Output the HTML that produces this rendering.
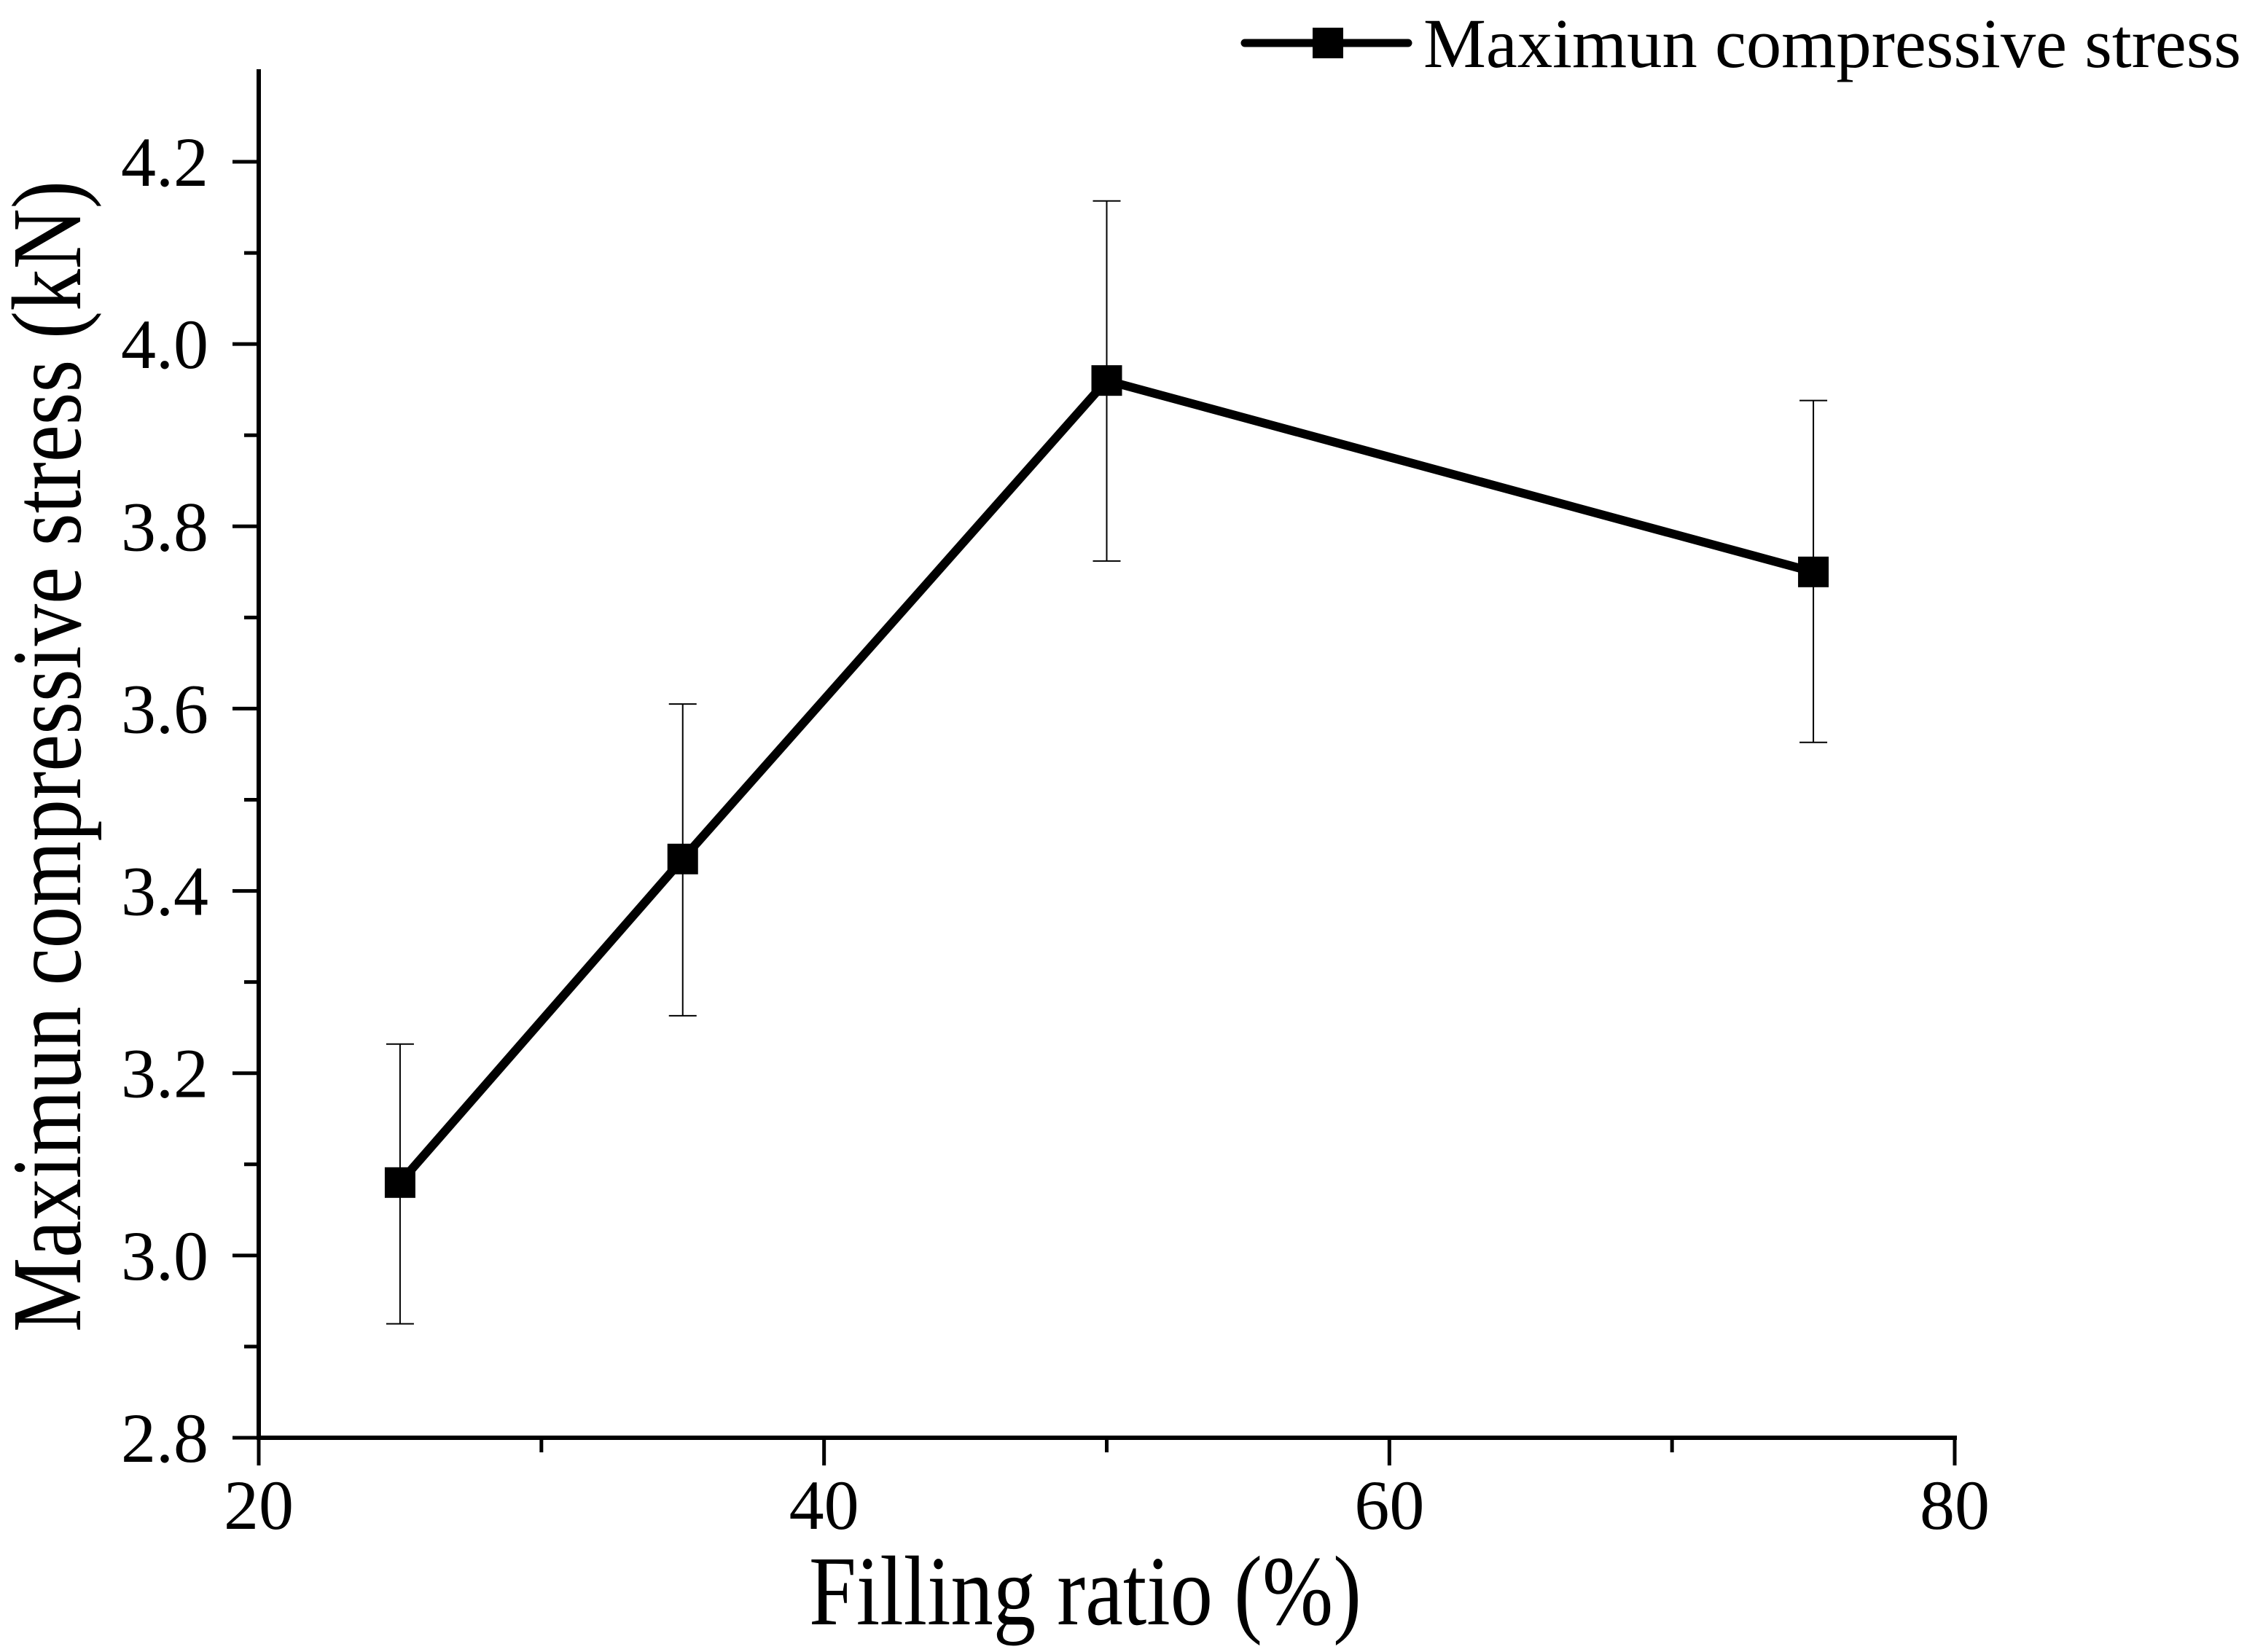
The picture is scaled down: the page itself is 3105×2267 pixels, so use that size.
<!DOCTYPE html>
<html><head><meta charset="utf-8"><style>
html,body{margin:0;padding:0;background:#fff;}
svg{display:block;font-family:"Liberation Serif","Times New Roman",serif;}
</style></head><body>
<svg id="chart" width="3105" height="2267" viewBox="0 0 3105 2267" xmlns="http://www.w3.org/2000/svg">
<g id="axes"></g>
<g id="series"></g>
<g>
  <line x1="1708" y1="59" x2="1932" y2="59" stroke="#000" stroke-width="11" stroke-linecap="round"/>
  <rect x="1801" y="38" width="42" height="42" fill="#000"/>
  <text x="1953" y="92" font-size="96" textLength="1122" lengthAdjust="spacingAndGlyphs">Maximun compressive stress</text>
</g>
<text x="1110" y="2229" font-size="136" textLength="758" lengthAdjust="spacingAndGlyphs">Filling ratio (%)</text>
<text transform="translate(110,1038) rotate(-90)" text-anchor="middle" font-size="136" textLength="1580" lengthAdjust="spacingAndGlyphs">Maximun compressive stress (kN)</text>
</svg>
<script>
const xCategories = [25, 35, 50, 75];
const yValues = [3.08, 3.435, 3.96, 3.75];
const errLow = [2.925, 3.263, 3.762, 3.563];
const errHigh = [3.232, 3.605, 4.157, 3.938];
const xTickLabels = [20, 40, 60, 80];
const xMinorTicks = [30, 50, 70];
const yTickLabels = ["2.8", "3.0", "3.2", "3.4", "3.6", "3.8", "4.0", "4.2"];
const yMinorTicks = [2.9, 3.1, 3.3, 3.5, 3.7, 3.9, 4.1];

const NS = "http://www.w3.org/2000/svg";
const X0 = 355, X1 = 2682, Y0 = 1973, YTOP = 95;
function xs(v){ return X0 + (v - 20) / 60 * (X1 - X0); }
function ys(v){ return Y0 - (v - 2.8) / 1.4 * (Y0 - 222); }
function mk(tag, attrs, parent){
  const e = document.createElementNS(NS, tag);
  for (const k in attrs) e.setAttribute(k, attrs[k]);
  parent.appendChild(e); return e;
}
const axes = document.getElementById('axes');
const series = document.getElementById('series');

let el = mk('line', {x1:X0, y1:YTOP, x2:X0, y2:Y0+3, stroke:'#000','stroke-width':6}, axes);


el = mk('line', {x1:X0-3, y1:Y0, x2:X1+3, y2:Y0, stroke:'#000','stroke-width':6}, axes);



xTickLabels.forEach(v => {
  const x = xs(v);
  let t = mk('line', {x1:x, y1:Y0, x2:x, y2:Y0+38, stroke:'#000','stroke-width':5}, axes);
  
  
  let l = mk('text', {x:x, y:2098, 'font-size':96, 'text-anchor':'middle'}, axes);
  l.textContent = v;
  
  
});
xMinorTicks.forEach(v => {
  const x = xs(v);
  let t = mk('line', {x1:x, y1:Y0, x2:x, y2:Y0+20, stroke:'#000','stroke-width':5}, axes);
  
  
});
yTickLabels.forEach(s => {
  const y = ys(parseFloat(s));
  let t = mk('line', {x1:X0-36, y1:y, x2:X0, y2:y, stroke:'#000','stroke-width':5}, axes);
  
  
  let l = mk('text', {x:286, y:y+33, 'font-size':96, 'text-anchor':'end'}, axes);
  l.textContent = s;
  
  
});
yMinorTicks.forEach(v => {
  const y = ys(v);
  let t = mk('line', {x1:X0-20, y1:y, x2:X0, y2:y, stroke:'#000','stroke-width':5}, axes);
  
  
});

xCategories.forEach((c, i) => {
  const x = xs(c);
  let e = mk('line', {x1:x, y1:ys(errLow[i]), x2:x, y2:ys(errHigh[i]), stroke:'#000','stroke-width':2}, series);
  
  
  [errLow[i], errHigh[i]].forEach(v => {
    let cap = mk('line', {x1:x-19, y1:ys(v), x2:x+19, y2:ys(v), stroke:'#000','stroke-width':2}, series);
    
    
  });
});
const pts = xCategories.map((c, i) => xs(c) + ',' + ys(yValues[i])).join(' ');
let pl = mk('polyline', {points:pts, fill:'none', stroke:'#000', 'stroke-width':12, 'stroke-linejoin':'miter'}, series);


xCategories.forEach((c, i) => {
  let m = mk('rect', {x:xs(c)-21, y:ys(yValues[i])-21, width:42, height:42, fill:'#000'}, series);
  
  
});
</script>
</body></html>
